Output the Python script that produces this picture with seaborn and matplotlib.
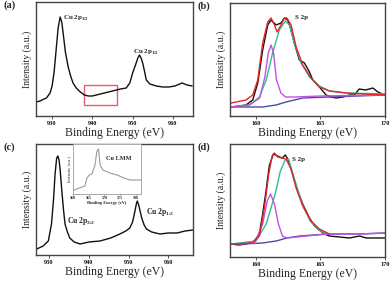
import numpy as np
import pandas as pd
import matplotlib
matplotlib.use('Agg')
import matplotlib.pyplot as plt
from matplotlib.patches import Rectangle
import seaborn as sns

# ---- panel (a): Cu 2p survey ----
a_energy = [926, 927, 928, 928.6, 929.5, 930, 930.5, 931, 931.5, 932, 932.4, 932.8, 933.3,
            934, 934.6, 935.2, 936, 937, 938, 939, 940, 941, 942, 943, 944, 945, 946,
            947, 948.4, 949.3, 950, 950.8, 951.3, 951.7, 952.1, 952.5, 953.0, 953.4, 954.3,
            955.9, 957.5, 959, 960.5, 962.3, 963.5, 964.8]
a_counts = [14, 15, 17, 18, 23, 30, 44, 66, 88, 99, 94, 81, 64,
            49, 40, 33, 28, 24, 21, 20, 20, 21, 22, 23, 24, 25, 26,
            27, 28, 33, 43, 52, 58, 61, 58, 53, 44, 36, 32,
            30, 29, 29, 30, 33, 31, 30]
box_energy = [938.0, 946.0]
box_counts = [11, 31]

# ---- panel (b): S 2p fit ----
b_energy = [158.08, 159.24, 159.76, 160.15, 160.53, 160.92, 161.18, 161.57, 161.95, 162.21,
            162.47, 162.73, 162.98, 163.37, 163.76, 164.15, 164.41, 164.92, 165.44, 165.83,
            166.22, 166.74, 167.25, 167.64, 168.0, 168.5, 169.06, 169.45, 170.0]
b_raw = [9, 11, 16, 33, 66, 91, 96, 91, 93, 98,
         96, 86, 73, 56, 53, 44, 36, 29, 21, 19,
         18, 19, 21, 21, 27, 26, 28, 24, 21]
b_sum_energy = [158.08, 159.24, 159.76, 160.15, 160.53, 160.92, 161.18, 161.44, 161.65, 161.95,
                162.21, 162.40, 162.73, 163.12, 163.63, 164.28, 164.92, 165.70, 167.0, 168.3, 170.0]
b_sum = [13, 16, 21, 36, 73, 94, 98, 91, 84, 91,
         98, 98, 91, 69, 51, 38, 29, 25, 23, 22, 21]
b_s2p32_energy = [158.08, 159.5, 160.3, 160.7, 160.96, 161.18, 161.37, 161.6, 161.94, 162.3,
                  163.0, 165.0, 170.0]
b_s2p32 = [9, 11, 18, 39, 63, 71, 63, 36, 23, 19,
           19, 20, 21]
b_s2p12_energy = [158.08, 159.5, 160.28, 160.8, 161.3, 161.82, 162.29, 162.6, 162.98, 163.5,
                  164.15, 164.92, 165.7, 167.0, 170.0]
b_s2p12 = [9, 11, 19, 36, 63, 86, 95, 91, 73, 53,
           39, 30, 25, 23, 22]
b_bg_energy = [158.08, 160.53, 161.57, 162.34, 163.63, 165.7, 170.0]
b_bg = [9, 9, 11, 14, 18, 19, 21]

# ---- panel (c): Cu 2p after, with Cu LMM inset ----
c_energy = [926.9, 928.5, 929.8, 930.6, 931.1, 931.5, 931.9, 932.2, 932.5, 932.8, 933.2,
            933.6, 934.0, 934.6, 935.2, 936.3, 937.8, 940.0, 942.8, 945.5, 947.8, 949.3,
            950.3, 951.0, 951.6, 952.0, 952.2, 952.6, 953.3, 953.9, 954.5, 955.8, 957.9,
            960.0, 962.2, 964.2, 966.2]
c_counts = [6, 9, 14, 31, 55, 81, 97, 99, 95, 84, 64,
            46, 31, 23, 17, 13, 11, 13, 14, 17, 21, 24,
            27, 33, 44, 52, 54, 49, 37, 30, 26, 23, 21,
            22, 22, 24, 25]
lmm_energy = [560.3, 562.0, 563.8, 564.4, 565.2, 566.0, 567.0, 567.6, 568.1, 568.6,
              569.5, 571.7, 574.0, 576.2, 578.1, 580.6, 581.6]
lmm_counts = [4, 6, 8, 16, 19, 20, 29, 43, 45, 29,
              24, 21, 19, 16, 14, 14, 14]

# ---- panel (d): S 2p fit ----
d_energy = [158.08, 158.7, 159.24, 159.88, 160.27, 160.53, 160.79, 161.04, 161.35, 161.69,
            162.03, 162.29, 162.47, 162.85, 163.24, 163.63, 164.15, 164.54, 164.92, 165.31,
            165.70, 166.48, 167.25, 168.03, 168.55, 169.32, 170.0]
d_raw = [13, 12, 13, 16, 23, 43, 66, 91, 103, 101,
         99, 102, 98, 83, 66, 53, 39, 31, 27, 23,
         21, 20, 19, 21, 19, 19, 19]
d_sum_energy = [158.08, 159.76, 160.28, 160.66, 161.0, 161.26, 161.44, 161.7, 162.03, 162.34,
                162.73, 163.12, 163.63, 164.28, 164.92, 165.70]
d_sum = [13, 14, 21, 49, 83, 101, 104, 100, 99, 98,
         88, 69, 51, 36, 28, 23]
d_s2p32_energy = [158.7, 159.9, 160.53, 160.88, 161.14, 161.44, 161.75, 162.06, 162.40]
d_s2p32 = [13, 14, 33, 56, 63, 53, 33, 21, 19]
d_tail_energy = [162.4, 165.5, 168.0, 170.0]
d_tail = [19, 23, 23, 24]
d_s2p12_energy = [158.08, 160.0, 160.8, 161.5, 161.9, 162.27, 162.53, 162.8, 163.2, 163.6,
                  164.2, 164.85, 165.5]
d_s2p12 = [13, 16, 33, 63, 86, 97, 98, 86, 69, 53,
           36, 27, 23]
d_bg_energy = [158.08, 159.0, 160.53, 161.57, 162.40, 163.4, 165.5, 168.0, 170.0]
d_bg = [13, 13, 14, 16, 19, 21, 23, 23, 24]

RED = '#e8232b'
GREEN = '#2fbf86'
MAGENTA = '#c550e6'
BLUE = '#4a4aa8'
BLACK = '#111111'

sns.set_style('ticks')
plt.rcParams['font.family'] = ['Liberation Serif', 'DejaVu Serif']
plt.rcParams['mathtext.fontset'] = 'custom'
plt.rcParams['mathtext.rm'] = 'Liberation Serif'
plt.rcParams['mathtext.bf'] = 'Liberation Serif:bold'


def line(ax, x, y, color, lw=1.0):
    sns.lineplot(x=x, y=y, ax=ax, color=color, lw=lw, sort=False, estimator=None)


def style_axes(ax, xlim, ylim, xticks, tag):
    ax.set_xlim(*xlim)
    ax.set_ylim(*ylim)
    ax.set_xticks(xticks)
    ax.set_yticks([])
    ax.tick_params(axis='x', labelsize=4.5, length=2, width=0.6, pad=1.5, colors='#333333')
    for lab in ax.get_xticklabels():
        lab.set_fontweight('bold')
        lab.set_color(BLACK)
    for sp in ax.spines.values():
        sp.set_visible(True)
        sp.set_linewidth(1.0)
        sp.set_color('#444444')
    ax.set_xlabel('Binding Energy (eV)', fontsize=8.5, labelpad=1)
    ax.set_ylabel('Intensity (a.u.)', fontsize=7, labelpad=3)
    ax.text(-0.21, 0.97, tag, transform=ax.transAxes, fontsize=7.5, fontweight='bold',
            ha='left', va='center')


fig = plt.figure(figsize=(3.92, 2.83), dpi=100)
W, H = 392.0, 283.0


def add_axes(l, r, t, b):
    return fig.add_axes([l / W, 1 - b / H, (r - l) / W, (b - t) / H])


ax_a = add_axes(36, 193, 2, 116)
ax_b = add_axes(230, 385, 3, 116)
ax_c = add_axes(36, 193, 144, 255)
ax_d = add_axes(230, 385, 144, 257)

# (a)
line(ax_a, a_energy, a_counts, BLACK)
ax_a.add_patch(Rectangle((box_energy[0], box_counts[0]), box_energy[1] - box_energy[0],
                         box_counts[1] - box_counts[0], fill=False, ec='#ee5a64', lw=1.0))
style_axes(ax_a, (926, 965), (0, 114), [930, 940, 950, 960], '(a)')
ax_a.text(932.6, 98, r'Cu 2p$_{\mathbf{3/2}}$', fontsize=5, fontweight='bold', va='center')
ax_a.text(950.0, 64, r'Cu 2p$_{\mathbf{1/2}}$', fontsize=5, fontweight='bold', va='center')

# (b)
line(ax_b, b_energy, b_raw, BLACK)
line(ax_b, b_bg_energy, b_bg, BLUE)
line(ax_b, b_s2p12_energy, b_s2p12, GREEN)
line(ax_b, b_s2p32_energy, b_s2p32, MAGENTA)
line(ax_b, b_sum_energy, b_sum, RED)
style_axes(ax_b, (158, 170), (0, 113), [160, 165, 170], '(b)')
ax_b.text(163.0, 98, 'S 2p', fontsize=5, fontweight='bold', va='center')

# (c)
line(ax_c, c_energy, c_counts, BLACK)
style_axes(ax_c, (926.7, 966.2), (0, 111), [930, 940, 950, 960], '(c)')
ax_c.text(934.6, 34, r'Cu 2p$_{\mathbf{3/2}}$', fontsize=5.5, fontweight='bold', va='center')
ax_c.text(954.3, 43, r'Cu 2p$_{\mathbf{1/2}}$', fontsize=5.5, fontweight='bold', va='center')

ins = add_axes(73, 141, 144, 194)
line(ins, lmm_energy, lmm_counts, '#9a9a9a', lw=0.8)
ins.set_xlim(560, 581.6)
ins.set_ylim(0, 50)
ins.set_xticks([560, 565, 570, 575, 580])
ins.set_yticks([])
ins.tick_params(axis='x', labelsize=3, length=1, width=0.4, pad=0.5)
for lab in ins.get_xticklabels():
    lab.set_fontweight('bold')
for sp in ins.spines.values():
    sp.set_visible(True)
    sp.set_linewidth(0.5)
    sp.set_color('#888888')
ins.set_xlabel('Binding Energy (eV)', fontsize=3.2, fontweight='bold', labelpad=0.5)
ins.set_ylabel('Intensity (a.u.)', fontsize=3.2, labelpad=0.5)
ins.text(574.5, 35, 'Cu LMM', fontsize=4.5, fontweight='bold', ha='center', va='center')

# (d)
line(ax_d, d_energy, d_raw, BLACK)
line(ax_d, d_bg_energy, d_bg, BLUE)
line(ax_d, d_s2p12_energy, d_s2p12, GREEN)
line(ax_d, d_s2p32_energy, d_s2p32, MAGENTA)
line(ax_d, d_tail_energy, d_tail, MAGENTA)
line(ax_d, d_sum_energy, d_sum, RED)
style_axes(ax_d, (158, 170), (0, 113), [160, 165, 170], '(d)')
ax_d.text(162.8, 98, 'S 2p', fontsize=5, fontweight='bold', va='center')

fig.savefig('out.png', dpi=100)
